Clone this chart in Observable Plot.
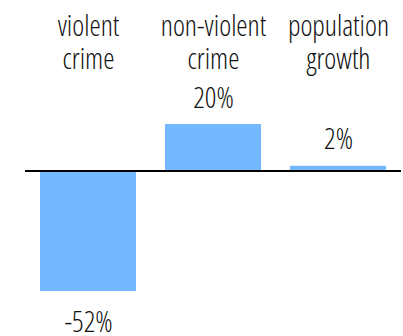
<!DOCTYPE html>
<html>
<head>
<meta charset="utf-8">
<script src="https://cdn.jsdelivr.net/npm/d3@7"></script>
<script src="https://cdn.jsdelivr.net/npm/@observablehq/plot@0.6"></script>
<style>
  html, body { margin: 0; padding: 0; background: #fff; }
</style>
</head>
<body>
<div id="chart"></div>
<script>
const categories = ["violent crime", "non-violent crime", "population growth"];
const categoryLabels = ["violent\ncrime", "non-violent\ncrime", "population\ngrowth"];
const values = [-52, 20, 2];
const valueLabels = ["-52%", "20%", "2%"];

const data = categories.map((c, i) => ({
  cat: c, label: categoryLabels[i], value: values[i], vlabel: valueLabels[i]
}));

const FS = 28.5;

const chart = Plot.plot({
  width: 403,
  height: 336,
  marginTop: 124,
  marginBottom: 45,
  marginLeft: 25,
  marginRight: 2,
  style: { fontFamily: "'Open Sans', sans-serif", fontStretch: "condensed", fontWeight: 300, background: "#fff" },
  x: { domain: categories, axis: null, paddingInner: 0.232, paddingOuter: 0.12 },
  y: { domain: [-52, 20], axis: null },
  marks: [
    Plot.barY(data, { x: "cat", y: "value", fill: "#74b9ff" }),
    Plot.ruleY([0], { stroke: "black", strokeWidth: 2 }),
    Plot.text(data, {
      x: "cat", text: "label", frameAnchor: "top", lineAnchor: "bottom",
      lineHeight: 33 / FS, dy: -56, fontSize: FS, fill: "#111"
    }),
    Plot.text(data.filter(d => d.value >= 0), {
      x: "cat", y: "value", text: "vlabel", lineAnchor: "bottom",
      dy: -17, fontSize: FS, fill: "#111"
    }),
    Plot.text(data.filter(d => d.value < 0), {
      x: "cat", y: "value", text: "vlabel", lineAnchor: "bottom",
      dy: 40, fontSize: FS, fill: "#111"
    })
  ]
});
document.getElementById("chart").appendChild(chart);
</script>
</body>
</html>
